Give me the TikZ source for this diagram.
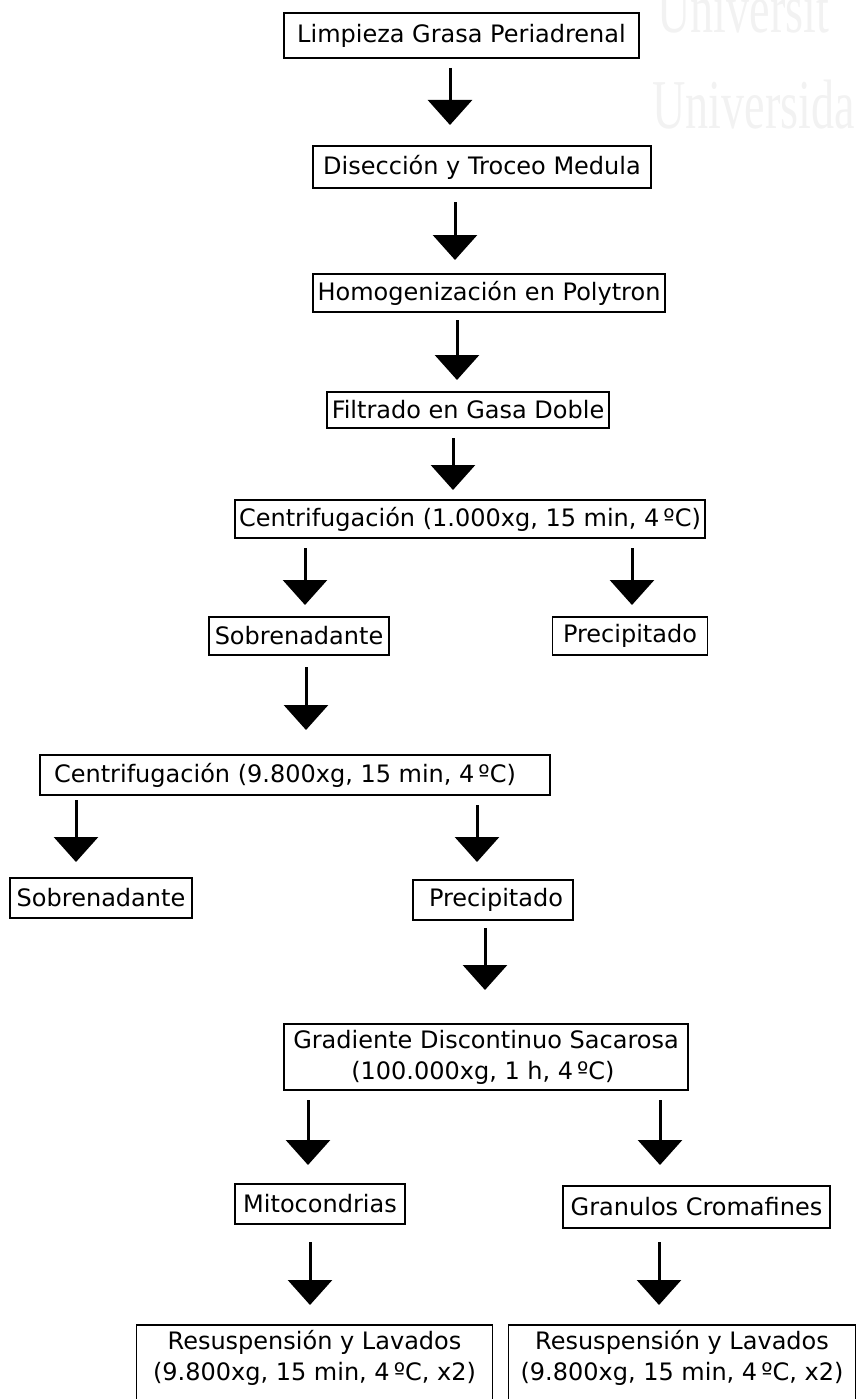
\documentclass[tikz,border=0pt]{standalone}
\usepackage{fontspec}
\setmainfont{DejaVu Sans}
\newfontfamily\wmfont[FakeStretch=0.66]{Liberation Serif}
\usetikzlibrary{arrows.meta}
\begin{document}
\begin{tikzpicture}[x=1pt,y=-1pt,
  box/.style={draw, line width=1.3pt, inner xsep=4pt, inner ysep=0pt,
    minimum height=38pt, font=\fontsize{24}{31}\selectfont, align=center},
  frame/.style={line width=1.3pt},
  arr/.style={line width=3pt, -{Triangle[width=44pt,length=25pt]}},
  wm/.style={text=black!5, font=\wmfont\fontsize{70}{70}\selectfont, inner sep=0pt, anchor=base west}]
\useasboundingbox (0,0) rectangle (857,1399);
% watermark
\begin{scope}
\clip (0,0) rectangle (857,1399);
\node[wm] (wm1) at (657,33) {Universit};
\node[wm] (wm2) at (652,129) {Universida};
\end{scope}
% boxes
\node[box, minimum width=355pt, minimum height=45pt] (b1) at (461.5,35.5) {Limpieza Grasa Periadrenal};
\node[box, minimum width=338pt, minimum height=42pt] (b2) at (482,167) {Disección y Troceo Medula};
\node[box, minimum width=352pt] (b3) at (489,293) {Homogenización en Polytron};
\node[box, minimum width=282pt, minimum height=36pt] (b4) at (468,410) {Filtrado en Gasa Doble};
\node[box, minimum width=466pt] (b5) at (470,519) {Centrifugación (1.000xg, 15 min, 4\,ºC)};
\node[box, minimum width=180pt] (b6) at (299,636) {Sobrenadante};
\node[box, minimum width=155pt] (b7) at (630,636) {Precipitado};
\node[box, minimum width=506pt, minimum height=40pt] (b8) at (295,775) {\hspace{10pt}Centrifugación (9.800xg, 15 min, 4\,ºC)\hspace{30pt}};
\node[box, minimum width=182pt, minimum height=40pt] (b9) at (101,898) {Sobrenadante};
\node[box, minimum width=160pt, minimum height=40pt] (b10) at (493,900) {\hspace{6pt}Precipitado};
\node[box, minimum width=404pt, minimum height=66pt, align=left] (b11) at (486,1057) {Gradiente Discontinuo Sacarosa\\\hspace{58pt}(100.000xg, 1 h, 4\,ºC)};
\node[box, minimum width=170pt, minimum height=40pt] (b12) at (320,1204) {Mitocondrias};
\node[box, minimum width=267pt, minimum height=42pt] (b13) at (696.5,1207) {Granulos Cromafines};
\node[box, draw=none, minimum width=355pt, anchor=north, inner ysep=5pt] (b14) at (314.5,1325) {Resuspensión y Lavados\\(9.800xg, 15 min, 4\,ºC, x2)};
\node[box, draw=none, minimum width=346pt, anchor=north, inner ysep=5pt] (b15) at (682,1325) {Resuspensión y Lavados\\(9.800xg, 15 min, 4\,ºC, x2)};
\draw[frame] ([yshift=-60pt]b14.south west) |- (b14.north east) -- ([yshift=-60pt]b14.south east);
\draw[frame] ([yshift=-60pt]b15.south west) |- (b15.north east) -- ([yshift=-60pt]b15.south east);
% arrow coordinates
\coordinate (t1) at (450,68);   \coordinate (h1) at (450,125);
\coordinate (t2) at (455,202);  \coordinate (h2) at (455,260);
\coordinate (t3) at (457,320);  \coordinate (h3) at (457,380);
\coordinate (t4) at (453,438);  \coordinate (h4) at (453,490);
\coordinate (t5a) at (305,548); \coordinate (h5a) at (305,605);
\coordinate (t5b) at (632,548); \coordinate (h5b) at (632,605);
\coordinate (t6) at (306,667);  \coordinate (h6) at (306,730);
\coordinate (t8a) at (76,800);  \coordinate (h8a) at (76,862);
\coordinate (t8b) at (477,805); \coordinate (h8b) at (477,862);
\coordinate (t10) at (485,928); \coordinate (h10) at (485,990);
\coordinate (t11a) at (308,1100); \coordinate (h11a) at (308,1165);
\coordinate (t11b) at (660,1100); \coordinate (h11b) at (660,1165);
\coordinate (t12) at (310,1242); \coordinate (h12) at (310,1305);
\coordinate (t13) at (659,1242); \coordinate (h13) at (659,1305);
\foreach \a in {1,2,3,4,5a,5b,6,8a,8b,10,11a,11b,12,13}
  \draw[arr] (t\a) -- (h\a);
\end{tikzpicture}
\end{document}
